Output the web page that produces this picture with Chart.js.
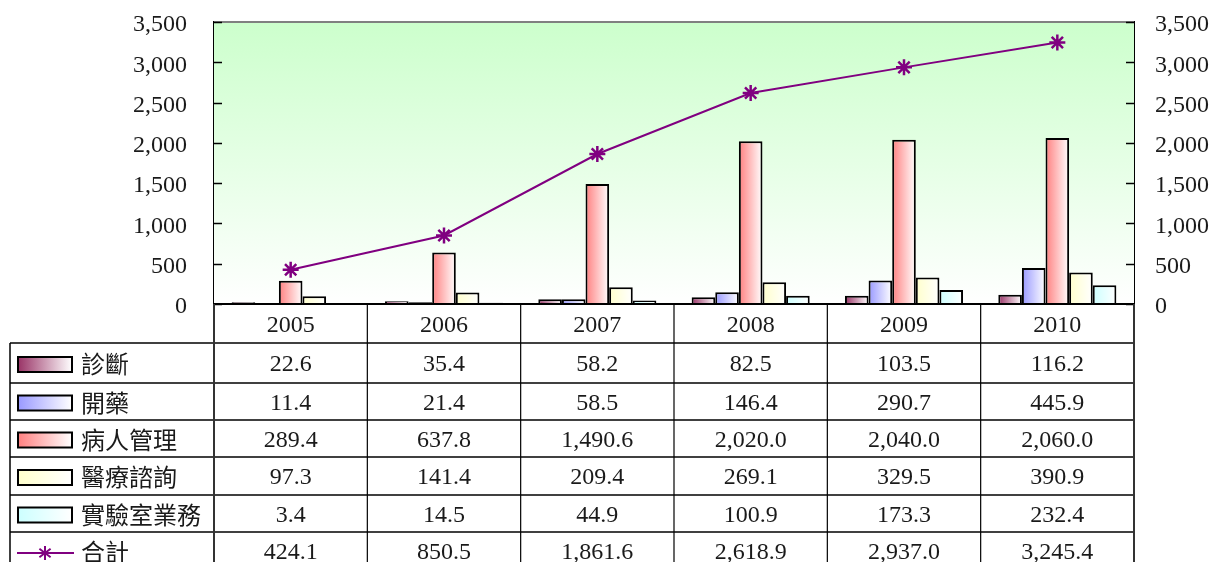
<!DOCTYPE html>
<html>
<head>
<meta charset="utf-8">
<script src="https://cdn.jsdelivr.net/npm/chart.js@4/dist/chart.umd.min.js"></script>
<style>
  html, body { margin: 0; padding: 0; background: #fff; }
  #wrap { width: 1212px; height: 562px; }
</style>
</head>
<body>
<div id="wrap"><canvas id="chart" width="1212" height="562"></canvas></div>
<script>
// 資料
const years = ['2005', '2006', '2007', '2008', '2009', '2010'];
const diagnose = [22.6, 35.4, 58.2, 82.5, 103.5, 116.2];
const prescribe = [11.4, 21.4, 58.5, 146.4, 290.7, 445.9];
const patientMgmt = [289.4, 637.8, 1490.6, 2020.0, 2040.0, 2060.0];
const consult = [97.3, 141.4, 209.4, 269.1, 329.5, 390.9];
const labWork = [3.4, 14.5, 44.9, 100.9, 173.3, 232.4];
const total = [424.1, 850.5, 1861.6, 2618.9, 2937.0, 3245.4];

const barNames = ['診斷', '開藥', '病人管理', '醫療諮詢', '實驗室業務'];
const barColors = ['#993366', '#9999ff', '#ff8080', '#ffffcc', '#ccffff'];
const lineName = '合計';
const lineColor = '#800080';

const CAT_PCT = 0.77;
const numFont = "24px 'Liberation Serif', 'DejaVu Serif', serif";
const cjkFont = "24px 'Noto Sans CJK TC', 'Noto Sans CJK SC', sans-serif";

// 每根柱子的橫向漸層
function barFill(color, di) {
    return function (c) {
        const chart = c.chart;
        const area = chart.chartArea;
        const xs = chart.scales.x;
        if (!area || !xs || c.dataIndex === undefined) return color;
        const catW = (area.right - area.left) / years.length;
        const groupW = catW * CAT_PCT;
        const barW = groupW / barNames.length;
        const x0 = xs.getPixelForValue(c.dataIndex) - groupW / 2 + di * barW;
        const g = chart.ctx.createLinearGradient(x0, 0, x0 + barW, 0);
        g.addColorStop(0, color);
        g.addColorStop(1, '#ffffff');
        return g;
    };
}

const fmt = v => v.toLocaleString('en-US', { minimumFractionDigits: 1, maximumFractionDigits: 1 });

// 繪圖區背景
const bgPlugin = {
    id: 'bg',
    beforeDatasetsDraw(chart) {
        const { ctx, chartArea: a } = chart;
        ctx.save();
        const g = ctx.createLinearGradient(0, a.top, 0, a.bottom);
        g.addColorStop(0, '#ccffcc');
        g.addColorStop(1, '#ffffff');
        ctx.fillStyle = g;
        ctx.fillRect(a.left, a.top, a.right - a.left, a.bottom - a.top);
        // 上框
        ctx.strokeStyle = '#808080';
        ctx.lineWidth = 2;
        ctx.beginPath();
        ctx.moveTo(a.left, a.top);
        ctx.lineTo(a.right, a.top);
        ctx.stroke();
        // 內側刻度
        ctx.strokeStyle = '#000';
        ctx.lineWidth = 1.5;
        chart.scales.y.ticks.forEach(t => {
            const y = Math.round(chart.scales.y.getPixelForValue(t.value)) + 0.5;
            ctx.beginPath();
            ctx.moveTo(a.left, y); ctx.lineTo(a.left + 8, y);
            ctx.moveTo(a.right - 8, y); ctx.lineTo(a.right, y);
            ctx.stroke();
        });
        ctx.restore();
    }
};

// 資料表
const tablePlugin = {
    id: 'dataTable',
    afterDraw(chart) {
        const { ctx, chartArea: a } = chart;
        const xs = chart.scales.x;
        const catW = (a.right - a.left) / years.length;
        const headerBottom = 343;
        const rowTops = [343, 383, 420, 457, 495, 532, 570];
        const tableLeft = 10;
        const H = chart.height;

        ctx.save();
        // 橫線
        ctx.strokeStyle = '#000';
        ctx.lineWidth = 2;
        ctx.beginPath();
        ctx.moveTo(a.left, a.bottom); ctx.lineTo(a.right, a.bottom);
        ctx.stroke();
        ctx.lineWidth = 1.5;
        rowTops.forEach(y => {
            ctx.beginPath();
            ctx.moveTo(tableLeft, y); ctx.lineTo(a.right, y);
            ctx.stroke();
        });
        // 直線
        for (let i = 0; i <= years.length; i++) {
            const x = a.left + i * catW;
            ctx.strokeStyle = (i === 0 || i === years.length) ? '#333' : '#000';
            ctx.lineWidth = (i === 0 || i === years.length) ? 2 : 1.2;
            ctx.beginPath();
            ctx.moveTo(x, a.bottom); ctx.lineTo(x, H);
            ctx.stroke();
        }
        ctx.lineWidth = 1.5;
        ctx.strokeStyle = '#000';
        ctx.beginPath();
        ctx.moveTo(tableLeft, headerBottom); ctx.lineTo(tableLeft, H);
        ctx.stroke();

        // 年份
        ctx.fillStyle = '#1a1a1a';
        ctx.font = numFont;
        ctx.textAlign = 'center';
        ctx.textBaseline = 'middle';
        years.forEach((yr, i) => {
            ctx.fillText(yr, xs.getPixelForValue(i), (a.bottom + headerBottom) / 2 + 2);
        });

        // 各列
        const series = [diagnose, prescribe, patientMgmt, consult, labWork, total];
        const names = barNames.concat([lineName]);
        series.forEach((vals, r) => {
            const cy = (rowTops[r] + rowTops[r + 1]) / 2 + 2;
            // 圖例
            if (r < barNames.length) {
                const g = ctx.createLinearGradient(18, 0, 72, 0);
                g.addColorStop(0, barColors[r]);
                g.addColorStop(1, '#ffffff');
                ctx.fillStyle = g;
                ctx.fillRect(18, cy - 8, 54, 15);
                ctx.strokeStyle = '#000';
                ctx.lineWidth = 2;
                ctx.strokeRect(18, cy - 8, 54, 15);
            } else {
                ctx.strokeStyle = lineColor;
                ctx.lineWidth = 2;
                ctx.beginPath();
                ctx.moveTo(17, cy); ctx.lineTo(74, cy);
                ctx.stroke();
                const cx = 45, rr = 7;
                ctx.beginPath();
                ctx.moveTo(cx, cy - rr); ctx.lineTo(cx, cy + rr);
                ctx.moveTo(cx - rr * 0.8, cy - rr * 0.6); ctx.lineTo(cx + rr * 0.8, cy + rr * 0.6);
                ctx.moveTo(cx - rr * 0.8, cy + rr * 0.6); ctx.lineTo(cx + rr * 0.8, cy - rr * 0.6);
                ctx.stroke();
            }
            ctx.fillStyle = '#1a1a1a';
            ctx.font = cjkFont;
            ctx.textAlign = 'left';
            ctx.fillText(names[r], 81, cy - 1);
            ctx.font = numFont;
            ctx.textAlign = 'center';
            vals.forEach((v, i) => {
                ctx.fillText(fmt(v), xs.getPixelForValue(i), cy);
            });
        });
        ctx.restore();
    }
};

const yTicks = {
    color: '#1a1a1a',
    font: { family: "'Liberation Serif', 'DejaVu Serif', serif", size: 24 },
    stepSize: 500,
    padding: 0,
    labelOffset: 3
};

const datasets = [{
    type: 'line',
    label: lineName,
    data: total,
    yAxisID: 'y2',
    borderColor: lineColor,
    borderWidth: 2,
    pointStyle: 'star',
    pointRadius: 8,
    pointBorderColor: lineColor,
    pointBorderWidth: 2.5,
    tension: 0,
    fill: false,
    order: 0
}];
[diagnose, prescribe, patientMgmt, consult, labWork].forEach((d, i) => {
    datasets.push({
        type: 'bar',
        label: barNames[i],
        data: d,
        yAxisID: 'y',
        backgroundColor: barFill(barColors[i], i),
        borderColor: '#000',
        borderWidth: 2,
        barPercentage: 1,
        categoryPercentage: CAT_PCT,
        order: 1
    });
});

new Chart(document.getElementById('chart'), {
    data: { labels: years, datasets: datasets },
    options: {
        responsive: false,
        animation: false,
        layout: { padding: { top: 22, bottom: 258, left: 0, right: 0 } },
        plugins: { legend: { display: false }, tooltip: { enabled: false } },
        scales: {
            x: { display: false, offset: true },
            y: {
                position: 'left',
                min: 0, max: 3500,
                ticks: yTicks,
                grid: { drawOnChartArea: false, drawTicks: true, tickLength: 27, color: 'rgba(0,0,0,0)' },
                border: { display: true, color: '#000', width: 2 },
                afterFit: s => { s.width = 214; }
            },
            y2: {
                position: 'right',
                min: 0, max: 3500,
                ticks: yTicks,
                grid: { drawOnChartArea: false, drawTicks: true, tickLength: 21, color: 'rgba(0,0,0,0)' },
                border: { display: true, color: '#000', width: 2 },
                afterFit: s => { s.width = 78; }
            }
        }
    },
    plugins: [bgPlugin, tablePlugin]
});
</script>
</body>
</html>
